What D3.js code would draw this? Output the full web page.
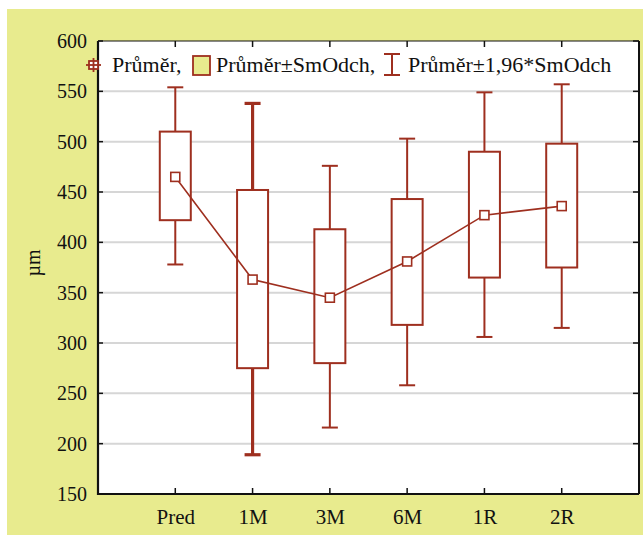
<!DOCTYPE html>
<html><head><meta charset="utf-8">
<script src="https://cdn.jsdelivr.net/npm/d3@7"></script>
<style>body{margin:0;background:#fff}svg{display:block}</style>
</head><body>
<svg id="c" width="643" height="535"></svg>
<script>
const categories = ["Pred","1M","3M","6M","1R","2R"];
const means      = [465, 363, 345, 381, 427, 436];
const sdLow      = [422, 275, 280, 318, 365, 375];
const sdHigh     = [510, 452, 413, 443, 490, 498];
const ciLow      = [378, 189, 216, 258, 306, 315];
const ciHigh     = [554, 538, 476, 503, 549, 557];
const yTicks     = [150,200,250,300,350,400,450,500,550,600];

const red = "#9e2f1f";
const svg = d3.select("#c");
const L=98, R=639, T=41, B=494;
svg.append("rect").attr("x",7).attr("y",9).attr("width",636).attr("height",526).attr("fill","#e8eb8e");
svg.append("rect").attr("x",L).attr("y",T).attr("width",R-L).attr("height",B-T).attr("fill","#fff");

const y = d3.scaleLinear().domain([150,600]).range([B,T]);
const x = d3.scaleLinear().domain([0,categories.length+1]).range([L,R]);
const font = "'Liberation Serif','Times New Roman',serif";

// grid
svg.append("g").selectAll("line").data(yTicks.slice(1,-1)).join("line")
  .attr("x1",L).attr("x2",R).attr("y1",d=>y(d)).attr("y2",d=>y(d))
  .attr("stroke","#d6d6d6").attr("stroke-width",2);

// axes
const gl = svg.append("g").attr("transform",`translate(${L},0)`)
  .call(d3.axisLeft(y).tickValues(yTicks).tickSize(0).tickPadding(11));
gl.select(".domain").remove();
gl.selectAll("text").attr("font-family",font).attr("font-size",20).attr("fill","#111");

const gb = svg.append("g").attr("transform",`translate(0,${B})`)
  .call(d3.axisBottom(x).tickValues(categories.map((c,i)=>i+1)).tickFormat((d)=>categories[d-1]).tickSize(0).tickPadding(15));
gb.select(".domain").remove();
gb.selectAll("text").attr("font-family",font).attr("font-size",21).attr("fill","#111");

// inner ticks
const tk = svg.append("g").attr("stroke","#111").attr("stroke-width",1.5);
categories.forEach((c,i)=>{
  tk.append("line").attr("x1",x(i+1)).attr("x2",x(i+1)).attr("y1",B).attr("y2",B-6);
  tk.append("line").attr("x1",x(i+1)).attr("x2",x(i+1)).attr("y1",T).attr("y2",T+6);
});
yTicks.forEach(v=>{
  tk.append("line").attr("x1",R).attr("x2",R-6).attr("y1",y(v)).attr("y2",y(v));
  tk.append("line").attr("x1",L).attr("x2",L+5).attr("y1",y(v)).attr("y2",y(v));
});
// frame
svg.append("line").attr("x1",L).attr("x2",R).attr("y1",T).attr("y2",T).attr("stroke","#111").attr("stroke-width",1.2);
svg.append("line").attr("x1",R).attr("x2",R).attr("y1",T).attr("y2",B).attr("stroke","#111").attr("stroke-width",2);
svg.append("line").attr("x1",L).attr("x2",L).attr("y1",T).attr("y2",B+1).attr("stroke","#111").attr("stroke-width",2.2);
svg.append("line").attr("x1",L-1).attr("x2",R).attr("y1",B).attr("y2",B).attr("stroke","#111").attr("stroke-width",2.2);

// y label
svg.append("text").attr("transform",`translate(40,${263}) rotate(-90)`)
  .attr("text-anchor","middle").attr("font-family",font).attr("font-size",20).attr("fill","#111").text("µm");

// boxes
const bw=31, cw=16;
const g = svg.append("g");
categories.forEach((c,i)=>{
  const cx = x(i+1);
  const sw = i===1 ? 3.2 : 2;
  g.append("line").attr("x1",cx).attr("x2",cx).attr("y1",y(ciHigh[i])).attr("y2",y(sdHigh[i])).attr("stroke",red).attr("stroke-width",sw);
  g.append("line").attr("x1",cx).attr("x2",cx).attr("y1",y(sdLow[i])).attr("y2",y(ciLow[i])).attr("stroke",red).attr("stroke-width",sw);
  g.append("line").attr("x1",cx-cw/2).attr("x2",cx+cw/2).attr("y1",y(ciHigh[i])).attr("y2",y(ciHigh[i])).attr("stroke",red).attr("stroke-width",sw);
  g.append("line").attr("x1",cx-cw/2).attr("x2",cx+cw/2).attr("y1",y(ciLow[i])).attr("y2",y(ciLow[i])).attr("stroke",red).attr("stroke-width",sw);
  g.append("rect").attr("x",cx-bw/2).attr("y",y(sdHigh[i])).attr("width",bw).attr("height",y(sdLow[i])-y(sdHigh[i]))
    .attr("fill","#fff").attr("stroke",red).attr("stroke-width",2);
});
// mean line
g.append("path").datum(means).attr("d",d3.line().x((d,i)=>x(i+1)).y(d=>y(d)))
  .attr("fill","none").attr("stroke",red).attr("stroke-width",1.6);
g.selectAll("rect.m").data(means).join("rect").attr("class","m")
  .attr("x",(d,i)=>x(i+1)-4.5).attr("y",d=>y(d)-4.5).attr("width",9).attr("height",9)
  .attr("fill","#fff").attr("stroke",red).attr("stroke-width",1.6);

// legend
const ly = 65;
const lg = svg.append("g").attr("font-family",font).attr("font-size",22).attr("fill","#111");
lg.append("rect").attr("x",89).attr("y",ly-4).attr("width",9).attr("height",8).attr("fill","#fff").attr("stroke",red).attr("stroke-width",1.8);
lg.append("line").attr("x1",86).attr("x2",101).attr("y1",ly).attr("y2",ly).attr("stroke",red).attr("stroke-width",1.8);
lg.append("line").attr("x1",93.5).attr("x2",93.5).attr("y1",ly-7).attr("y2",ly+7).attr("stroke",red).attr("stroke-width",1.8);
lg.append("text").attr("x",112).attr("y",ly+7).text("Průměr,");
lg.append("rect").attr("x",193).attr("y",ly-9).attr("width",17).attr("height",19).attr("fill","#e8eb8e").attr("stroke",red).attr("stroke-width",1.8);
lg.append("text").attr("x",216).attr("y",ly+7).text("Průměr±SmOdch,");
lg.append("line").attr("x1",384).attr("x2",400).attr("y1",ly-11).attr("y2",ly-11).attr("stroke",red).attr("stroke-width",2);
lg.append("line").attr("x1",384).attr("x2",400).attr("y1",ly+10).attr("y2",ly+10).attr("stroke",red).attr("stroke-width",2);
lg.append("line").attr("x1",392).attr("x2",392).attr("y1",ly-11).attr("y2",ly+10).attr("stroke",red).attr("stroke-width",2);
lg.append("text").attr("x",408).attr("y",ly+7).text("Průměr±1,96*SmOdch");
</script>
</body></html>
